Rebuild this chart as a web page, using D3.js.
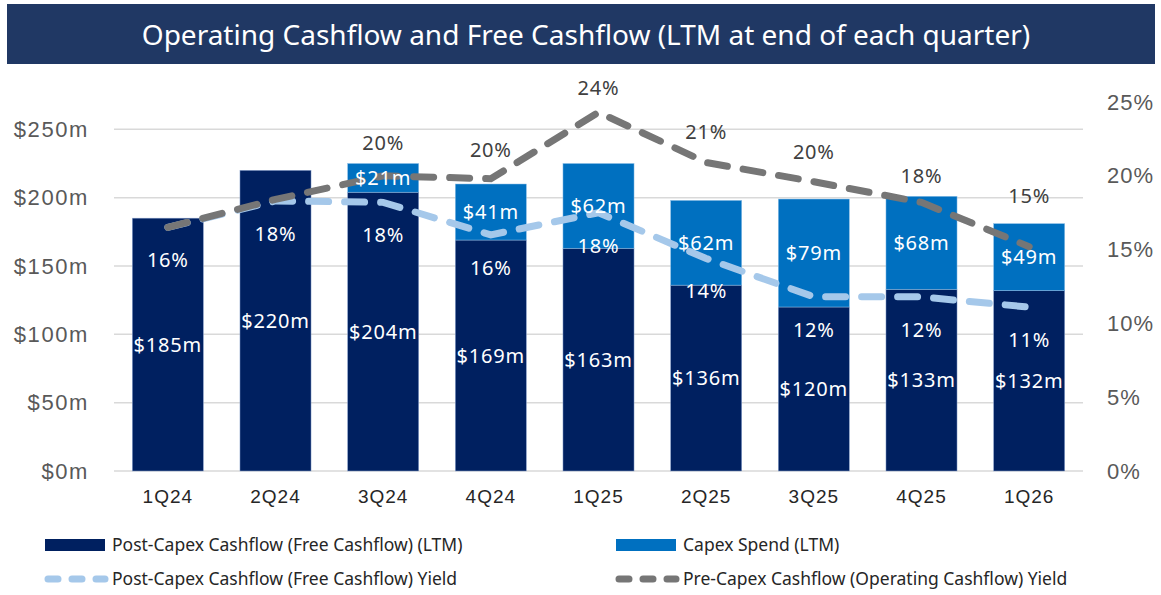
<!DOCTYPE html>
<html>
<head>
<meta charset="utf-8">
<script src="https://cdn.jsdelivr.net/npm/d3@7"></script>
<style>
  body { margin: 0; background: #fff; }
  svg { display: block; font-family: "Noto Sans", "Open Sans", sans-serif; }
</style>
</head>
<body>
<script>
// data
const quarters = ["1Q24", "2Q24", "3Q24", "4Q24", "1Q25", "2Q25", "3Q25", "4Q25", "1Q26"];
const freeCashflow = [185, 220, 204, 169, 163, 136, 120, 133, 132];
const capexSpend = [0, 0, 21, 41, 62, 62, 79, 68, 49];
const fcfYield = [16.5, 18.3, 18.2, 16.0, 17.5, 14.4, 11.8, 11.8, 11.1];
const ocfYield = [16.5, 18.4, 20.0, 19.8, 24.3, 20.9, 19.6, 18.2, 15.2];
const fcfYieldLabels = ["16%", "18%", "18%", "16%", "18%", "14%", "12%", "12%", "11%"];
const ocfYieldLabels = ["", "", "20%", "20%", "24%", "21%", "20%", "18%", "15%"];
const leftTicks = [0, 50, 100, 150, 200, 250];
const rightTicks = [0, 5, 10, 15, 20, 25];

const W = 1161, H = 595;
const NAVY = "#002060", BLUE = "#0070C0", LIGHT = "#A5C8EA", GREY = "#767676";
// how far the grey line's labels sit above their point (the last one was nudged up)
const ocfLabelLift = [30, 30, 33, 29, 24, 31, 30, 26, 51];

var svg = d3.select("body").append("svg")
    .attr("width", W)
    .attr("height", H);

// title banner
svg.append("rect")
    .attr("x", 7).attr("y", 4)
    .attr("width", 1148).attr("height", 60)
    .attr("fill", "#203864");
svg.append("text")
    .attr("x", 586).attr("y", 35)
    .attr("dy", "0.35em")
    .attr("text-anchor", "middle")
    .attr("fill", "#fff")
    .attr("font-size", 28)
    .text("Operating Cashflow and Free Cashflow (LTM at end of each quarter)");

var x = d3.scaleBand().domain(quarters).range([114, 1083]).paddingInner(0.34).paddingOuter(0.17);
var y = d3.scaleLinear().domain([0, 270]).range([471, 102]);
var y2 = d3.scaleLinear().domain([0, 25]).range([471, 102]);

// gridlines
svg.append("g").selectAll("line")
    .data(leftTicks)
    .enter().append("line")
        .attr("x1", 114).attr("x2", 1083)
        .attr("y1", function(d) { return y(d); })
        .attr("y2", function(d) { return y(d); })
        .attr("stroke", "#d9d9d9")
        .attr("stroke-width", 1.5);

// left axis
var leftAxis = svg.append("g")
    .attr("transform", "translate(114,0)")
    .call(d3.axisLeft(y).tickValues(leftTicks).tickSize(0).tickPadding(25)
        .tickFormat(function(d) { return "$" + d + "m"; }));
leftAxis.select(".domain").remove();
leftAxis.selectAll("text").attr("font-size", 22).attr("letter-spacing", 1.6)
    .attr("fill", "#595959").attr("font-family", null);

// right axis
var rightAxis = svg.append("g")
    .attr("transform", "translate(1083,0)")
    .call(d3.axisRight(y2).tickValues(rightTicks).tickSize(0).tickPadding(24)
        .tickFormat(function(d) { return d + "%"; }));
rightAxis.select(".domain").remove();
rightAxis.selectAll("text").attr("font-size", 22).attr("letter-spacing", 1)
    .attr("fill", "#595959").attr("font-family", null);

// category axis
var bottomAxis = svg.append("g")
    .attr("transform", "translate(0,471)")
    .call(d3.axisBottom(x).tickSize(0).tickPadding(19));
bottomAxis.select(".domain").remove();
bottomAxis.selectAll("text").attr("font-size", 19).attr("letter-spacing", 1)
    .attr("fill", "#262626").attr("font-family", null);

// bars
svg.append("g").selectAll("rect")
    .data(quarters)
    .enter().append("rect")
        .attr("x", function(d) { return x(d); })
        .attr("width", x.bandwidth())
        .attr("y", function(d, i) { return y(freeCashflow[i]); })
        .attr("height", function(d, i) { return y(0) - y(freeCashflow[i]); })
        .attr("fill", NAVY)
        .attr("stroke", "#8ea6cf").attr("stroke-width", 0.5);

svg.append("g").selectAll("rect")
    .data(quarters.filter(function(d, i) { return capexSpend[i] > 0; }))
    .enter().append("rect")
        .attr("x", function(d) { return x(d); })
        .attr("width", x.bandwidth())
        .attr("y", function(d) { var i = quarters.indexOf(d); return y(freeCashflow[i] + capexSpend[i]); })
        .attr("height", function(d) { var i = quarters.indexOf(d); return y(freeCashflow[i]) - y(freeCashflow[i] + capexSpend[i]); })
        .attr("fill", BLUE)
        .attr("stroke", "#8ec0e8").attr("stroke-width", 0.5);

// lines
var cx = function(i) { return x(quarters[i]) + x.bandwidth() / 2; };
var line = d3.line().x(function(d, i) { return cx(i); }).y(function(d) { return y2(d); });

svg.append("path")
    .datum(fcfYield)
    .attr("d", line)
    .attr("fill", "none")
    .attr("stroke", LIGHT)
    .attr("stroke-width", 7)
    .attr("stroke-linecap", "round")
    .attr("stroke-dasharray", "20,16");

svg.append("path")
    .datum(ocfYield)
    .attr("d", line)
    .attr("fill", "none")
    .attr("stroke", GREY)
    .attr("stroke-width", 7)
    .attr("stroke-linecap", "round")
    .attr("stroke-dasharray", "20,16");

// bar value labels
var labels = svg.append("g").attr("font-size", 20).attr("letter-spacing", 0.8)
    .attr("fill", "#fff").attr("text-anchor", "middle");
quarters.forEach(function(q, i) {
    labels.append("text")
        .attr("x", cx(i))
        .attr("y", (y(0) + y(freeCashflow[i])) / 2)
        .attr("dy", "0.35em")
        .text("$" + freeCashflow[i] + "m");
    if (capexSpend[i] > 0) {
        labels.append("text")
            .attr("x", cx(i))
            .attr("y", (y(freeCashflow[i]) + y(freeCashflow[i] + capexSpend[i])) / 2)
            .attr("dy", "0.35em")
            .text("$" + capexSpend[i] + "m");
    }
    labels.append("text")
        .attr("x", cx(i))
        .attr("y", y2(fcfYield[i]) + 33)
        .attr("dy", "0.35em")
        .text(fcfYieldLabels[i]);
    if (ocfYieldLabels[i]) {
        labels.append("text")
            .attr("x", cx(i))
            .attr("y", y2(ocfYield[i]) - ocfLabelLift[i])
            .attr("dy", "0.35em")
            .attr("fill", "#404040")
            .text(ocfYieldLabels[i]);
    }
});

// legend
var legendItems = [
    { name: "Post-Capex Cashflow (Free Cashflow) (LTM)", type: "rect", color: NAVY, x: 45, y: 545 },
    { name: "Capex Spend (LTM)", type: "rect", color: BLUE, x: 616, y: 545 },
    { name: "Post-Capex Cashflow (Free Cashflow) Yield", type: "line", color: LIGHT, x: 45, y: 579 },
    { name: "Pre-Capex Cashflow (Operating Cashflow) Yield", type: "line", color: GREY, x: 616, y: 579 }
];
var legend = svg.append("g").selectAll("g")
    .data(legendItems)
    .enter().append("g")
        .attr("transform", function(d) { return "translate(" + d.x + "," + d.y + ")"; });

legend.filter(function(d) { return d.type == "rect"; })
    .append("rect")
        .attr("x", 0).attr("y", -6)
        .attr("width", 60).attr("height", 12)
        .attr("fill", function(d) { return d.color; });

legend.filter(function(d) { return d.type == "line"; })
    .append("line")
        .attr("x1", 3).attr("x2", 60)
        .attr("y1", 0).attr("y2", 0)
        .attr("stroke", function(d) { return d.color; })
        .attr("stroke-width", 7)
        .attr("stroke-linecap", "round")
        .attr("stroke-dasharray", "10,14");

legend.append("text")
    .attr("x", 67)
    .attr("dy", "0.35em")
    .attr("font-size", 17.5)
    .attr("fill", "#262626")
    .text(function(d) { return d.name; });
</script>
</body>
</html>
